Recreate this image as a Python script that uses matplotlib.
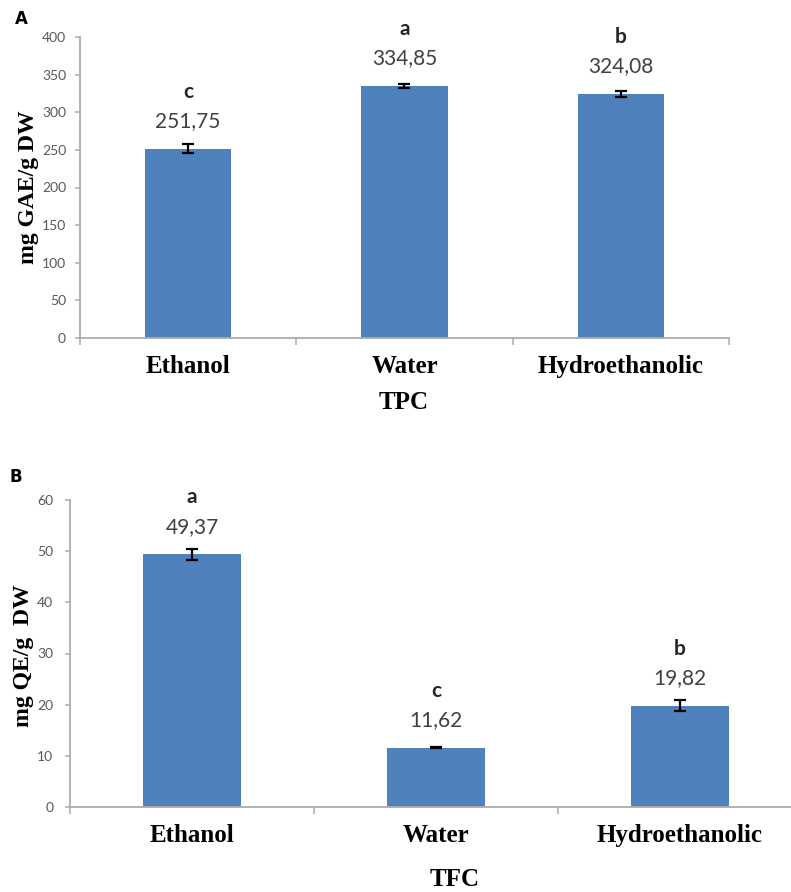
import matplotlib
matplotlib.use("Agg")
import matplotlib.pyplot as plt

# Data
categorias = ["Ethanol", "Water", "Hydroethanolic"]

tpc_valores = [251.75, 334.85, 324.08]
tpc_erros = [6, 3, 4]
tpc_letras = ["c", "a", "b"]

tfc_valores = [49.37, 11.62, 19.82]
tfc_erros = [1.07, 0.15, 1.0]
tfc_letras = ["a", "c", "b"]

# Styles
AZUL = "#4F81BD"
CINZA_EIXO = "#ABABAB"
CINZA_TEXTO = "#595959"
SERIF = "Liberation Serif"

fig = plt.figure(figsize=(7.91, 8.92), dpi=100)

def painel(ax, valores, erros, letras, yticks, ylabel, pad_y):
    x = list(range(len(categorias)))
    ax.bar(x, valores, width=0.4, color=AZUL, yerr=erros,
           error_kw=dict(ecolor="black", elinewidth=1.6, capsize=4.5, capthick=1.6),
           zorder=2)
    for xi, v, letra in zip(x, valores, letras):
        txt = f"{v:.2f}".replace(".", ",")
        ax.annotate(txt, (xi, v), xytext=(0, 20), textcoords="offset points",
                    ha="center", va="center", fontsize=15, family="Lato",
                    color="#404040")
        ax.annotate(letra, (xi, v), xytext=(0, 41), textcoords="offset points",
                    ha="center", va="center", fontsize=15, family="Lato",
                    fontweight="bold", color="#262626")
    ax.set_xlim(-0.5, len(categorias) - 0.5)
    ax.set_ylim(yticks[0], yticks[-1])
    ax.set_yticks(yticks)
    ax.set_xticks(x)
    ax.set_xticklabels(categorias, family=SERIF, fontweight="bold", fontsize=18)
    ax.set_xticks([i - 0.5 for i in range(len(categorias) + 1)], minor=True)
    ax.tick_params(axis="x", which="major", length=0, pad=12)
    ax.tick_params(axis="x", which="minor", length=5, width=1.1, color=CINZA_EIXO,
                   direction="out")
    ax.tick_params(axis="y", length=3.5, width=1.1, color=CINZA_EIXO,
                   labelcolor=CINZA_TEXTO, labelsize=10, pad=pad_y)
    for lbl in ax.get_yticklabels():
        lbl.set_family("Lato")
    for s in ["top", "right"]:
        ax.spines[s].set_visible(False)
    for s in ["left", "bottom"]:
        ax.spines[s].set_color(CINZA_EIXO)
        ax.spines[s].set_linewidth(1.3)
    ax.set_ylabel(ylabel, family=SERIF, fontweight="bold", fontsize=17)

# Painel A
axA = fig.add_axes([80 / 791, 1 - 338 / 892, 649 / 791, 301 / 892])
painel(axA, tpc_valores, tpc_erros, tpc_letras, list(range(0, 401, 50)),
       "mg GAE/g DW", 6.5)
axA.yaxis.set_label_coords(-0.063, 0.5)
fig.text(404 / 791, 1 - 402 / 892, "TPC", family=SERIF, fontweight="bold",
         fontsize=18, ha="center", va="center")
fig.text(21 / 791, 1 - 19 / 892, "A", fontweight="bold", fontsize=12,
         ha="center", va="center")

# Painel B
axB = fig.add_axes([70 / 791, 1 - 807 / 892, 732 / 791, 307 / 892])
painel(axB, tfc_valores, tfc_erros, tfc_letras, list(range(0, 61, 10)),
       "mg QE/g  DW", 8.5)
axB.yaxis.set_label_coords(-0.049, 0.493)
fig.text(455 / 791, 1 - 880 / 892, "TFC", family=SERIF, fontweight="bold",
         fontsize=18, ha="center", va="center")
fig.text(16 / 791, 1 - 477 / 892, "B", fontweight="bold", fontsize=12,
         ha="center", va="center")

fig.savefig("out.png", dpi=100)
